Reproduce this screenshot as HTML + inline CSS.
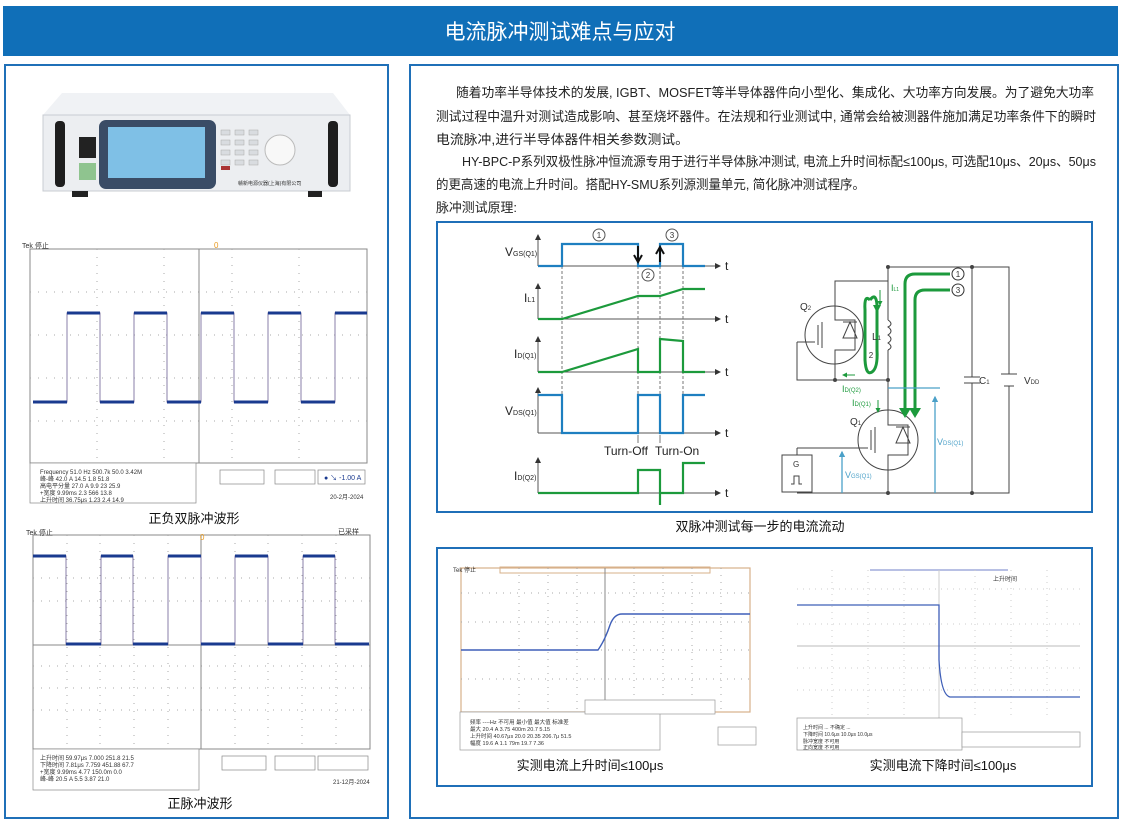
<!DOCTYPE html>
<html><head><meta charset="utf-8"><style>
html,body{margin:0;padding:0;background:#fff;}
svg{display:block;}
text{font-family:"Liberation Sans","Noto Sans CJK SC",sans-serif;}
</style></head><body>
<svg width="1123" height="823" viewBox="0 0 1123 823" xmlns="http://www.w3.org/2000/svg">
<defs>
<marker id="ak" markerWidth="6" markerHeight="6" refX="5" refY="3" orient="auto"><path d="M0,0 L6,3 L0,6z" fill="#333"/></marker>
<marker id="ag" markerWidth="5" markerHeight="5" refX="4" refY="2.5" orient="auto"><path d="M0,0 L5,2.5 L0,5z" fill="#1c9a3c"/></marker>
<marker id="ab" markerWidth="5" markerHeight="5" refX="4" refY="2.5" orient="auto"><path d="M0,0 L5,2.5 L0,5z" fill="#4aa0c8"/></marker>
</defs>
<rect x="3" y="6" width="1115" height="50" fill="#106fb8"/>
<text x="560" y="39" font-size="21" fill="#fff" text-anchor="middle">电流脉冲测试难点与应对</text>
<rect x="5" y="65" width="383" height="753" fill="none" stroke="#1f70b8" stroke-width="2"/>
<rect x="410" y="65" width="708" height="753" fill="none" stroke="#1f70b8" stroke-width="2"/>

<!-- device -->
<path d="M62,93 L333,93 L350,115 L43,115z" fill="#f0f2f5"/>
<rect x="43" y="115" width="307" height="76" fill="#eceef1" stroke="#c8ccd2"/>
<rect x="55" y="121" width="10" height="66" rx="4" fill="#1e1e1e"/>
<rect x="328" y="121" width="10" height="66" rx="4" fill="#1e1e1e"/>
<rect x="79" y="137" width="17" height="21" fill="#222"/>
<rect x="79" y="163" width="17" height="17" fill="#8fc48f"/>
<rect x="99" y="120" width="117" height="69" rx="7" fill="#3a4c66"/>
<rect x="108" y="127" width="97" height="51" fill="#7fc0e6"/>
<g fill="#d9dce0" stroke="#aaa" stroke-width="0.5">
<rect x="221" y="130" width="9" height="5"/><rect x="235" y="130" width="9" height="5"/><rect x="249" y="130" width="9" height="5"/>
<rect x="221" y="140" width="9" height="5"/><rect x="235" y="140" width="9" height="5"/><rect x="249" y="140" width="9" height="5"/>
<rect x="221" y="150" width="9" height="5"/><rect x="235" y="150" width="9" height="5"/><rect x="249" y="150" width="9" height="5"/>
<rect x="221" y="160" width="9" height="5"/><rect x="235" y="160" width="9" height="5"/><rect x="249" y="160" width="9" height="5"/>
</g>
<rect x="221" y="166" width="9" height="4" fill="#a33"/>
<circle cx="280" cy="150" r="15" fill="#f8f8f8" stroke="#bbb"/>
<text x="238" y="185" font-size="5" fill="#333">赣新电源仪器(上海)有限公司</text>
<rect x="72" y="191" width="16" height="6" fill="#222"/><rect x="308" y="191" width="14" height="6" fill="#222"/>

<!-- scope 1 -->
<g>
<rect x="30" y="249" width="337" height="214" fill="#fff" stroke="#888" stroke-width="1"/>
<g stroke="#aaa" stroke-dasharray="1 7" stroke-width="1">
<line x1="30" y1="292" x2="367" y2="292"/><line x1="30" y1="335" x2="367" y2="335"/><line x1="30" y1="378" x2="367" y2="378"/><line x1="30" y1="421" x2="367" y2="421"/>
<line x1="97" y1="249" x2="97" y2="463"/><line x1="164" y1="249" x2="164" y2="463"/><line x1="232" y1="249" x2="232" y2="463"/><line x1="299" y1="249" x2="299" y2="463"/>
</g>
<line x1="199" y1="249" x2="199" y2="463" stroke="#888"/>
<path d="M33,402 L67,402 L67,313 L100,313 L100,402 L134,402 L134,313 L167,313 L167,402 L201,402 L201,313 L234,313 L234,402 L268,402 L268,313 L301,313 L301,402 L335,402 L335,313 L367,313" fill="none" stroke="#8a7fa8" stroke-width="1"/>
<path d="M33,402 L67,402 M67,313 L100,313 M100,402 L134,402 M134,313 L167,313 M167,402 L201,402 M201,313 L234,313 M234,402 L268,402 M268,313 L301,313 M301,402 L335,402 M335,313 L367,313" stroke="#1a3a8f" stroke-width="3"/>
<text x="22" y="248" font-size="7" fill="#333">Tek 停止</text>
<text x="214" y="248" font-size="8" fill="#e89a20">0</text>
<rect x="30" y="463" width="166" height="40" fill="#fff" stroke="#888" stroke-width="0.7"/>
<g font-size="6" fill="#333"><text x="40" y="474">Frequency 51.0 Hz   500.7k   50.0   3.42M</text><text x="40" y="481">峰-峰   42.0 A   14.5   1.8   51.8</text><text x="40" y="488">高电平分量  27.0 A   9.9   23   25.9</text><text x="40" y="495">+宽度  9.99ms  2.3  566  13.8</text><text x="40" y="502">上升时间 36.75μs 1.23 2.4  14.9</text></g>
<rect x="220" y="470" width="44" height="14" fill="none" stroke="#888" stroke-width="0.7"/>
<rect x="275" y="470" width="40" height="14" fill="none" stroke="#888" stroke-width="0.7"/>
<rect x="318" y="470" width="47" height="14" fill="none" stroke="#888" stroke-width="0.7"/>
<text x="324" y="480" font-size="7" fill="#1a3a8f">● ↘ -1.00 A</text>
<text x="330" y="499" font-size="6" fill="#333">20-2月-2024</text>
</g>
<text x="194" y="523" font-size="13" fill="#111" text-anchor="middle">正负双脉冲波形</text>

<!-- scope 2 -->
<g>
<rect x="33" y="535" width="337" height="214" fill="#fff" stroke="#888"/>
<g stroke="#aaa" stroke-dasharray="1 7">
<line x1="33" y1="578" x2="370" y2="578"/><line x1="33" y1="601" x2="370" y2="601"/><line x1="33" y1="666" x2="370" y2="666"/><line x1="33" y1="688" x2="370" y2="688"/><line x1="33" y1="710" x2="370" y2="710"/>
<line x1="67" y1="535" x2="67" y2="749"/><line x1="100" y1="535" x2="100" y2="749"/><line x1="134" y1="535" x2="134" y2="749"/><line x1="168" y1="535" x2="168" y2="749"/><line x1="235" y1="535" x2="235" y2="749"/><line x1="268" y1="535" x2="268" y2="749"/><line x1="302" y1="535" x2="302" y2="749"/><line x1="336" y1="535" x2="336" y2="749"/>
</g>
<line x1="201" y1="535" x2="201" y2="749" stroke="#888"/>
<line x1="33" y1="645" x2="370" y2="645" stroke="#888"/>
<path d="M33,556 L66,556 L66,644 L101,644 L101,556 L133,556 L133,644 L168,644 L168,556 L201,556 L201,644 L235,644 L235,556 L268,556 L268,644 L303,644 L303,556 L335,556 L335,644 L369,644" fill="none" stroke="#8a7fa8"/>
<path d="M33,556 L66,556 M66,644 L101,644 M101,556 L133,556 M133,644 L168,644 M168,556 L201,556 M201,644 L235,644 M235,556 L268,556 M268,644 L303,644 M303,556 L335,556 M335,644 L369,644" stroke="#1a3a8f" stroke-width="3"/>
<text x="26" y="535" font-size="7" fill="#333">Tek 停止</text>
<text x="338" y="534" font-size="7" fill="#333">已采样</text>
<text x="200" y="540" font-size="8" fill="#e89a20">0</text>
<rect x="33" y="749" width="166" height="41" fill="#fff" stroke="#888" stroke-width="0.7"/>
<g font-size="6" fill="#333"><text x="40" y="760">上升时间  59.97μs  7.000  251.8  21.5</text><text x="40" y="767">下降时间  7.81μs  7.759  451.88  67.7</text><text x="40" y="774">+宽度  9.99ms  4.77  150.0m  0.0</text><text x="40" y="781">峰-峰  20.5 A  5.5  3.87  21.0</text></g>
<rect x="222" y="756" width="44" height="14" fill="none" stroke="#888" stroke-width="0.7"/>
<rect x="275" y="756" width="40" height="14" fill="none" stroke="#888" stroke-width="0.7"/>
<rect x="318" y="756" width="50" height="14" fill="none" stroke="#888" stroke-width="0.7"/>
<text x="333" y="784" font-size="6" fill="#333">21-12月-2024</text>
</g>
<text x="200" y="808" font-size="13" fill="#111" text-anchor="middle">正脉冲波形</text>

<!-- paragraph -->
<g font-size="13" fill="#222">
<text x="456" y="97" textLength="638" lengthAdjust="spacingAndGlyphs">随着功率半导体技术的发展, IGBT、MOSFET等半导体器件向小型化、集成化、大功率方向发展。为了避免大功率</text>
<text x="436" y="121" textLength="660" lengthAdjust="spacingAndGlyphs">测试过程中温升对测试造成影响、甚至烧坏器件。在法规和行业测试中, 通常会给被测器件施加满足功率条件下的瞬时</text>
<text x="436" y="144" textLength="253" lengthAdjust="spacingAndGlyphs">电流脉冲,进行半导体器件相关参数测试。</text>
<text x="462" y="166" textLength="634" lengthAdjust="spacingAndGlyphs">HY-BPC-P系列双极性脉冲恒流源专用于进行半导体脉冲测试, 电流上升时间标配≤100μs, 可选配10μs、20μs、50μs</text>
<text x="436" y="189" textLength="429" lengthAdjust="spacingAndGlyphs">的更高速的电流上升时间。搭配HY-SMU系列源测量单元, 简化脉冲测试程序。</text>
<text x="436" y="212" textLength="81" lengthAdjust="spacingAndGlyphs">脉冲测试原理:</text>
</g>

<!-- diagram box -->
<rect x="437" y="222" width="655" height="290" fill="#fff" stroke="#1f6fb8" stroke-width="2"/>
<g fill="none" stroke-width="1">
<g stroke="#555" marker-end="url(#ak)">
<line x1="538" y1="266" x2="538" y2="235"/><line x1="538" y1="266" x2="720" y2="266"/>
<line x1="538" y1="319" x2="538" y2="284"/><line x1="538" y1="319" x2="720" y2="319"/>
<line x1="538" y1="372" x2="538" y2="337"/><line x1="538" y1="372" x2="720" y2="372"/>
<line x1="538" y1="433" x2="538" y2="388"/><line x1="538" y1="433" x2="720" y2="433"/>
<line x1="538" y1="493" x2="538" y2="458"/><line x1="538" y1="493" x2="720" y2="493"/>
</g>
<g stroke="#777" stroke-dasharray="3 2">
<line x1="562" y1="266" x2="562" y2="433"/><line x1="638" y1="266" x2="638" y2="433"/><line x1="660" y1="266" x2="660" y2="433"/><line x1="683" y1="266" x2="683" y2="433"/>
</g>
<path d="M538,266 L562,266 L562,244 L638,244 L638,266 L660,266 L660,244 L683,244 L683,266 L705,266" stroke="#1e7fc0" stroke-width="2.2"/>
<path d="M538,319 L562,319 L638,296 L660,296 L683,289 L705,289" stroke="#1c9a3c" stroke-width="2.2"/>
<path d="M538,372 L562,372 L638,349 L638,372 L660,372 L660,339 L683,341 L683,372 L705,372" stroke="#1c9a3c" stroke-width="2.2"/>
<path d="M538,395 L562,395 L562,433 L638,433 L638,395 L660,395 L660,433 L683,433 L683,395 L705,395" stroke="#1e7fc0" stroke-width="2.2"/>
<path d="M538,493 L638,493 L638,470 L660,470 L660,505 M660,493 L683,493 L683,463 L705,463" stroke="#1c9a3c" stroke-width="2.2"/>
<path d="M638,246 L638,261 M634,255 L638,262 L642,255" stroke="#111" stroke-width="2"/>
<path d="M660,262 L660,248 M656,254 L660,247 L664,254" stroke="#111" stroke-width="2"/>
<g stroke="#555" stroke-width="0.8"><line x1="638" y1="443" x2="638" y2="435"/><line x1="660" y1="443" x2="660" y2="435"/></g>
<circle cx="599" cy="235" r="6" stroke="#555"/><circle cx="672" cy="235" r="6" stroke="#555"/><circle cx="648" cy="275" r="6" stroke="#555"/>
</g>
<g font-size="8" fill="#333" text-anchor="middle"><text x="599" y="238">1</text><text x="672" y="238">3</text><text x="648" y="278">2</text></g>
<g font-size="12" fill="#222">
<text x="505" y="256">V<tspan font-size="7">GS(Q1)</tspan></text>
<text x="524" y="302">I<tspan font-size="7">L1</tspan></text>
<text x="514" y="358">I<tspan font-size="7">D(Q1)</tspan></text>
<text x="505" y="415">V<tspan font-size="7">DS(Q1)</tspan></text>
<text x="514" y="480">I<tspan font-size="7">D(Q2)</tspan></text>
<text x="725" y="270">t</text><text x="725" y="323">t</text><text x="725" y="376">t</text><text x="725" y="437">t</text><text x="725" y="497">t</text>
<text x="604" y="455">Turn-Off</text><text x="655" y="455">Turn-On</text>
</g>

<!-- circuit -->
<g fill="none" stroke="#444" stroke-width="1">
<path d="M888,267 L1009,267 L1009,374 M1009,386 L1009,493 L797,493"/>
<path d="M972,267 L972,377 M972,383 L972,493"/>
<path d="M964,377 L980,377 M964,383 L980,383"/>
<path d="M1001,374 L1017,374 M1004,386 L1014,386"/>
<path d="M888,267 L888,320 M888,350 L888,410 M888,470 L888,493"/>
<path d="M888,320 q6,4 0,7 q6,4 0,8 q6,4 0,8 q6,4 0,7"/>
<path d="M888,281 L835,281 L835,306 M835,364 L835,380 L888,380"/>
<path d="M797,342 L797,380 L835,380 M797,342 L815,342"/>
<circle cx="834" cy="335" r="29"/>
<circle cx="888" cy="440" r="30"/>
<path d="M835,306 L835,320 L855,320 L855,350 L835,350 L835,364 M818,325 L818,345 M822,322 L822,348 M850,322 L843,338 L857,338z M843,322 L857,322"/>
<path d="M888,410 L888,425 L908,425 L908,455 L888,455 L888,470 M871,430 L871,450 M875,427 L875,453 M903,427 L896,443 L910,443z M896,427 L910,427"/>
<path d="M797,448 L868,448 M797,448 L797,455"/>
<rect x="782" y="455" width="30" height="37" fill="#fff"/>
<path d="M791,484 L794,484 L794,476 L799,476 L799,484 L802,484"/>
</g>
<g fill="#444"><circle cx="888" cy="267" r="2"/><circle cx="972" cy="267" r="2"/><circle cx="888" cy="380" r="2"/><circle cx="835" cy="380" r="2"/><circle cx="888" cy="493" r="2"/><circle cx="972" cy="493" r="2"/></g>
<g fill="none" stroke="#1c9a3c" stroke-width="3">
<path d="M950,274 L915,274 Q905,274 905,284 L905,410"/>
<path d="M950,290 L925,290 Q915,290 915,300 L915,410"/>
<path d="M870,300 Q864,294 865,310 L865,360 Q866,376 872,372 Q878,368 877,350 L877,305 Q876,292 870,300"/>
</g>
<g fill="#1c9a3c"><path d="M899,408 L911,408 L905,418z"/><path d="M909,408 L921,408 L915,418z"/><path d="M873,305 L881,305 L877,313z"/></g>
<g stroke="#1c9a3c" stroke-width="1" fill="none"><path d="M880,290 L880,305" marker-end="url(#ag)"/><path d="M878,400 L878,412" marker-end="url(#ag)"/><path d="M855,375 L843,375" marker-end="url(#ag)"/></g>
<g fill="none" stroke="#4aa0c8" stroke-width="1.3"><path d="M888,388 L940,388"/><path d="M935,493 L935,397" marker-end="url(#ab)"/><path d="M842,493 L842,452" marker-end="url(#ab)"/></g>
<circle cx="958" cy="274" r="6" fill="#fff" stroke="#333"/><circle cx="958" cy="290" r="6" fill="#fff" stroke="#333"/>
<g font-size="8" fill="#333" text-anchor="middle"><text x="958" y="277">1</text><text x="958" y="293">3</text><text x="871" y="358">2</text></g>
<g font-size="10" fill="#333">
<text x="800" y="310">Q<tspan font-size="6">2</tspan></text>
<text x="850" y="425">Q<tspan font-size="6">1</tspan></text>
<text x="872" y="340">L<tspan font-size="6">1</tspan></text>
<text x="979" y="384">C<tspan font-size="6">1</tspan></text>
<text x="1024" y="384">V<tspan font-size="6">DD</tspan></text>
<text x="793" y="467" font-size="8">G</text>
</g>
<g font-size="9" fill="#1c9a3c">
<text x="891" y="291">I<tspan font-size="5">L1</tspan></text>
<text x="842" y="392">I<tspan font-size="6">D(Q2)</tspan></text>
<text x="852" y="406">I<tspan font-size="6">D(Q1)</tspan></text>
</g>
<g font-size="9" fill="#4aa0c8">
<text x="937" y="445">V<tspan font-size="6">DS(Q1)</tspan></text>
<text x="845" y="478">V<tspan font-size="6">GS(Q1)</tspan></text>
</g>
<text x="760" y="531" font-size="13" fill="#111" text-anchor="middle">双脉冲测试每一步的电流流动</text>

<!-- bottom box -->
<rect x="437" y="548" width="655" height="238" fill="#fff" stroke="#1f6fb8" stroke-width="2"/>
<g>
<rect x="461" y="568" width="289" height="144" fill="#fff" stroke="#d7b08a" stroke-width="1.2"/>
<rect x="500" y="567" width="210" height="6" fill="none" stroke="#d7b08a"/>
<g stroke="#aaa" stroke-dasharray="1 6"><line x1="461" y1="593" x2="750" y2="593"/><line x1="461" y1="622" x2="750" y2="622"/><line x1="461" y1="650" x2="750" y2="650"/><line x1="461" y1="679" x2="750" y2="679"/>
<line x1="519" y1="568" x2="519" y2="712"/><line x1="548" y1="568" x2="548" y2="712"/><line x1="577" y1="568" x2="577" y2="712"/><line x1="634" y1="568" x2="634" y2="712"/><line x1="663" y1="568" x2="663" y2="712"/><line x1="692" y1="568" x2="692" y2="712"/><line x1="721" y1="568" x2="721" y2="712"/></g>
<line x1="605" y1="568" x2="605" y2="712" stroke="#888"/>
<path d="M461,650 L598,650 Q605,640 610,625 Q614,614 622,614 L750,614" fill="none" stroke="#3f5fb8" stroke-width="1.4"/>
<text x="453" y="572" font-size="6" fill="#333">Tek 停止</text>
<rect x="460" y="712" width="200" height="38" fill="#fff" stroke="#999" stroke-width="0.7"/>
<rect x="585" y="700" width="130" height="14" fill="#fff" stroke="#999" stroke-width="0.7"/>
<g font-size="5.5" fill="#333"><text x="470" y="724">频率  ----Hz  不可用  最小值  最大值  标准差</text><text x="470" y="731">最大  20.4 A  3.75  400m  20.7  5.15</text><text x="470" y="738">上升时间 40.67μs 20.0  20.35  206.7μ  51.5</text><text x="470" y="745">幅度  19.6 A  1.1  79m  19.7  7.36</text></g>
<rect x="718" y="727" width="38" height="18" fill="#fff" stroke="#999" stroke-width="0.7"/>
</g>
<g>
<rect x="797" y="570" width="283" height="148" fill="#fff"/>
<line x1="870" y1="570" x2="1008" y2="570" stroke="#7080c8"/>
<g stroke="#ccc" stroke-dasharray="1 5"><line x1="797" y1="589" x2="1080" y2="589"/><line x1="797" y1="624" x2="1080" y2="624"/><line x1="797" y1="668" x2="1080" y2="668"/><line x1="797" y1="690" x2="1080" y2="690"/>
<line x1="832" y1="570" x2="832" y2="718"/><line x1="868" y1="570" x2="868" y2="718"/><line x1="904" y1="570" x2="904" y2="718"/><line x1="975" y1="570" x2="975" y2="718"/><line x1="1011" y1="570" x2="1011" y2="718"/><line x1="1047" y1="570" x2="1047" y2="718"/></g>
<line x1="797" y1="646" x2="1080" y2="646" stroke="#bbb"/>
<line x1="939" y1="570" x2="939" y2="718" stroke="#ccc"/>
<path d="M797,605 L939,605 L939,660 Q941,695 950,697 L1080,697" fill="none" stroke="#3f5fb8" stroke-width="1.3"/>
<text x="993" y="581" font-size="6" fill="#333">上升时间</text>
<rect x="797" y="718" width="165" height="32" fill="#fff" stroke="#999" stroke-width="0.7"/>
<rect x="962" y="732" width="118" height="15" fill="#fff" stroke="#999" stroke-width="0.7"/>
<g font-size="5" fill="#333"><text x="803" y="729">上升时间   ...   不确定   ...</text><text x="803" y="736">下降时间  10.6μs  10.0μs  10.0μs</text><text x="803" y="743">脉冲宽度  不可用</text><text x="803" y="749">正向宽度  不可用</text></g>
</g>
<text x="590" y="770" font-size="13" fill="#111" text-anchor="middle">实测电流上升时间≤100μs</text>
<text x="943" y="770" font-size="13" fill="#111" text-anchor="middle">实测电流下降时间≤100μs</text>
</svg>
</body></html>
